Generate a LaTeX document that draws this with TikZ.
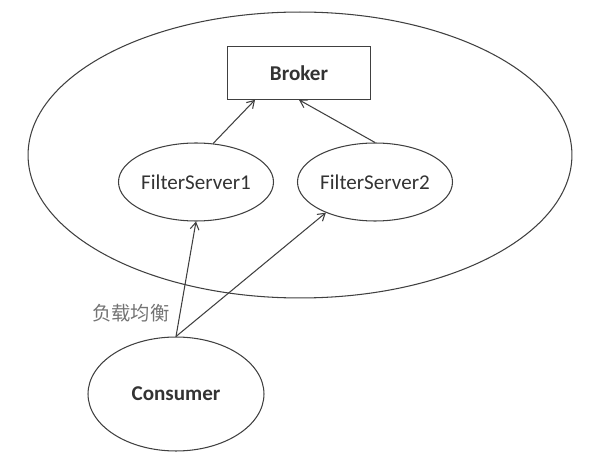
\documentclass[tikz,border=0pt]{standalone}
\usepackage{fontspec}
\setmainfont{Carlito}
\newfontfamily\cjk{Noto Sans CJK SC}
\usetikzlibrary{shapes.geometric, arrows.meta, positioning}

\begin{document}
\begin{tikzpicture}[x=0.02cm, y=-0.02cm,
  every node/.style={font=\fontsize{12}{14}\selectfont, text=black!80},
  oval/.style={draw=black!75, ellipse, inner sep=0pt},
  link/.style={draw=black!75, line width=0.6pt, -{Straight Barb[length=4pt,width=5pt]}}]
\useasboundingbox (0,0) rectangle (596,456);
\node (cluster) at (300,155) [oval, line width=0.6pt, minimum width=10.88cm, minimum height=5.72cm] {};
\node (broker) at (299,73) [draw=black!75, minimum width=2.86cm, minimum height=1.06cm] {\bfseries Broker};
\node (fs1) at (196,182) [oval, line width=0.6pt, minimum width=2.72cm, minimum height=1.56cm] {FilterServer1};
\node (fs2) at (375,182) [oval, line width=0.6pt, minimum width=2.72cm, minimum height=1.56cm] {FilterServer2};
\node (cons) at (176,394) [oval, line width=0.6pt, minimum width=3.52cm, minimum height=2.28cm] {\bfseries Consumer};
\node (lb) at (131,313) [text=black!55] {\cjk\fontsize{11}{13}\selectfont 负载均衡};
% arrows
\draw [link] (fs1.66) -- ([xshift=-0.88cm]broker.south);
\draw [link] (fs2.north) -- (broker.south);
\draw [link] (cons.north) -- (fs1.south);
\draw [link] (cons.north) -- (fs2.212);
\end{tikzpicture}
\end{document}
